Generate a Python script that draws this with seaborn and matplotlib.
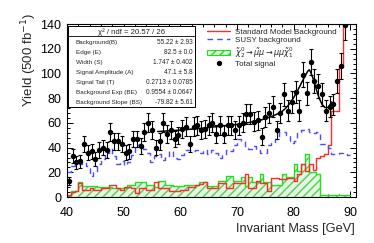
import numpy as np
import pandas as pd
import matplotlib
matplotlib.use('Agg')
import matplotlib.pyplot as plt
import seaborn as sns
from matplotlib.lines import Line2D
from matplotlib.patches import Patch, Rectangle
from matplotlib.ticker import MultipleLocator

# histogram binning: 75 bins of 2/3 GeV between 40 and 90 GeV
edges = np.linspace(40, 90, 76)
centers = (edges[:-1] + edges[1:]) / 2

# Standard Model background (red)
sm_bkg = [2, 4, 5, 11, 5.5, 5.5, 7, 5.5, 5.5, 7.6,
          7.6, 10, 10, 7.6, 6, 8.5, 8.5, 7.6, 3.5, 7.6,
          7.6, 6, 6, 12, 7.6, 7.6, 7.6, 5, 5, 5,
          6, 6, 8, 8, 10, 10.6, 12, 7.6, 7.6, 7.6,
          11.7, 11.7, 7.6, 7.6, 11.7, 11.7, 11.7, 18.7, 7.6, 7.6,
          13, 11.7, 11.7, 5, 15.8, 15.8, 14.6, 14.6, 15.8, 15.8,
          13, 19, 27, 21, 27, 22, 32, 33, 35, 42,
          70, 70, 105, 200, 200]

# SUSY background (blue dashed)
susy_bkg = [20, 25, 27, 27, 28, 25, 17, 20, 27, 31,
            36, 40, 33, 27, 29, 26, 28, 34, 42, 43,
            39, 36, 28, 33, 35, 30, 33, 37, 32, 31,
            34, 38, 38, 37, 38, 36, 38, 35, 38, 36,
            32, 34, 38, 37, 42, 47, 45, 40, 39, 41,
            38, 36, 36, 42, 44, 47, 53, 53, 50, 44,
            45, 53, 54, 55, 53, 52, 53, 43, 43, 40,
            35, 35, 36, 35, 34]

# signal chi2 -> smuon mu -> mu mu chi1 (green hatched)
signal = [1, 5, 5, 12, 9, 9, 9, 9, 8, 8,
          8, 8, 7, 7, 7, 7, 10, 10, 12, 12,
          12, 10, 10, 8, 13, 13, 10, 10, 9, 9,
          9, 10, 10, 10, 10, 12, 12, 9, 9, 9,
          13, 13, 17, 17, 13, 13, 16, 9, 16, 12,
          12, 19, 12, 12, 10, 10, 10, 19, 16, 16,
          27, 21, 27, 35, 20, 20, 19, 2, 2, 2,
          2, 2, 2, 2, 2]

# total signal data points
total = [13, 33, 28, 29, 43, 36, 37, 31, 38, 40,
         38, 53, 45, 45, 43, 36, 37, 47, 47, 41,
         53, 60, 54, 40, 45, 60, 51, 54, 47, 50,
         55, 57, 43, 57, 58, 54, 55, 58, 60, 51,
         58, 51, 58, 58, 54, 58, 60, 67, 67, 61,
         62, 49, 65, 68, 73, 54, 68, 83, 70, 77,
         85, 70, 99, 84, 109, 94, 90, 83, 70, 73,
         75, 94, 106, 139]

# fit curve
fit_x = [56, 58, 60, 62, 64, 66, 68, 70, 72, 74, 75, 76, 77, 78, 78.5,
         79, 79.5, 80, 80.5, 81, 81.5, 82, 82.5, 82.75, 83, 83.5, 84,
         84.5, 85, 85.5, 86, 86.3, 86.7]
fit_y = [53.0, 53.6, 54.2, 55.0, 55.8, 56.8, 57.8, 58.8, 60.2, 62.0, 63.5,
         65.0, 67.0, 69.5, 71.5, 74.0, 77.0, 80.5, 84.5, 89.0, 93.5, 98.0,
         102.0, 103.0, 101.0, 95.0, 87.0, 80.0, 75.0, 72.5, 72.5, 74.0, 77.0]

fit_labels = ['Background(B)', 'Edge (E)', 'Width (S)', 'Signal Amplitude (A)',
              'Signal Tail (T)', 'Background Exp (BE)', 'Background Slope (BS)']
fit_values = ['55.22 ± 2.93', '82.5 ± 0.0', '1.747 ± 0.402', '47.1 ± 5.8',
              '0.2713 ± 0.0785', '0.9554 ± 0.0647', '-79.82 ± 5.61']

hist_df = pd.DataFrame({'mass': centers, 'sm': sm_bkg, 'susy': susy_bkg, 'sig': signal})

sns.set_theme(style='ticks')
plt.rcParams['font.family'] = ['Liberation Sans', 'DejaVu Sans']
plt.rcParams['hatch.linewidth'] = 1.0

red = '#ff2a2a'
blue = '#4a4aff'
green = '#22dd22'
hatch_green = '#55cc55'

fig = plt.figure(figsize=(3.74, 2.43), dpi=100)
ax = fig.add_axes([0.179, 0.189, 0.773, 0.712])

bin_list = [float(e) for e in edges]

# signal: pale fill with hatching on top + outline
ax.fill_between(edges, np.append(signal, signal[-1]), step='post',
                facecolor='#e2f6e2', edgecolor=hatch_green, hatch='////', linewidth=0,
                zorder=1)
sns.histplot(data=hist_df, x='mass', weights='sig', bins=bin_list, element='step',
             fill=False, color=green, linewidth=1.0, ax=ax)
sns.histplot(data=hist_df, x='mass', weights='sm', bins=bin_list, element='step',
             fill=False, color=red, linewidth=1.0, ax=ax)
sns.histplot(data=hist_df, x='mass', weights='susy', bins=bin_list, element='step',
             fill=False, color=blue, linewidth=1.0, linestyle=(0, (4, 3)), ax=ax)

ax.errorbar(centers[:len(total)], total, yerr=np.sqrt(total), fmt='o',
            color='black', ms=2.9, elinewidth=0.8, capsize=1.2, capthick=0.8, zorder=5)
sns.lineplot(x=fit_x, y=fit_y, color='black', linewidth=1.1, ax=ax, zorder=6)

ax.set_xlim(40, 91)
ax.set_ylim(0, 140)
ax.set_xticks(range(40, 91, 10))
ax.set_yticks(range(0, 141, 20))
ax.xaxis.set_minor_locator(MultipleLocator(2))
ax.yaxis.set_minor_locator(MultipleLocator(4))
ax.tick_params(which='both', direction='in', top=True, right=True, width=0.7,
               colors='black', labelsize=9)
ax.tick_params(axis='x', pad=7)
ax.tick_params(axis='y', pad=4)
ax.tick_params(which='major', length=4.5)
ax.tick_params(which='minor', length=2.3)
for sp in ax.spines.values():
    sp.set_linewidth(0.8)
    sp.set_color('black')

ax.set_xlabel('Invariant Mass [GeV]', fontsize=9.2, loc='right')
ax.xaxis.set_label_coords(0.997, -0.15)
ax.set_ylabel('Yield (500 fb$^{-1}$)', fontsize=9.5)
ax.yaxis.set_label_coords(-0.095, 0.79)

# fit statistics box
ax.add_patch(Rectangle((0.003, 0.52), 0.44, 0.468, transform=ax.transAxes,
                       facecolor='white', edgecolor='black', lw=0.7, zorder=10))
ax.plot([0.003, 0.443], [0.93, 0.93], transform=ax.transAxes, color='black',
        lw=0.6, zorder=11)
ax.text(0.223, 0.952, 'χ² / ndf = 20.57 / 26', transform=ax.transAxes,
        ha='center', va='center', fontsize=5.6, zorder=12)
row_y = [0.894, 0.836, 0.779, 0.721, 0.663, 0.605, 0.547]
for yy, lab, val in zip(row_y, fit_labels, fit_values):
    ax.text(0.031, yy, lab, transform=ax.transAxes, ha='left', va='center',
            fontsize=4.6, zorder=12)
    ax.text(0.436, yy, val, transform=ax.transAxes, ha='right', va='center',
            fontsize=4.7, zorder=12)

handles = [Line2D([], [], color=red, lw=1.0),
           Line2D([], [], color=blue, lw=1.0, ls=(0, (4, 3))),
           Patch(facecolor='#e2f6e2', edgecolor=green, hatch='////', lw=0.8),
           Line2D([], [], color='black', marker='o', ls='none', ms=2.8)]
labels = ['Standard Model Background', 'SUSY background',
          r'$\tilde{\chi}^{0}_{2} \rightarrow \tilde{\mu}\mu \rightarrow \mu\mu\tilde{\chi}^{0}_{1}$',
          'Total signal']
ax.legend(handles, labels, loc='upper left', bbox_to_anchor=(0.484, 0.978),
          frameon=False, fontsize=5.8, handlelength=2.9, handletextpad=0.6,
          labelspacing=0.1, borderpad=0, borderaxespad=0)

fig.savefig('out.png', dpi=100)
